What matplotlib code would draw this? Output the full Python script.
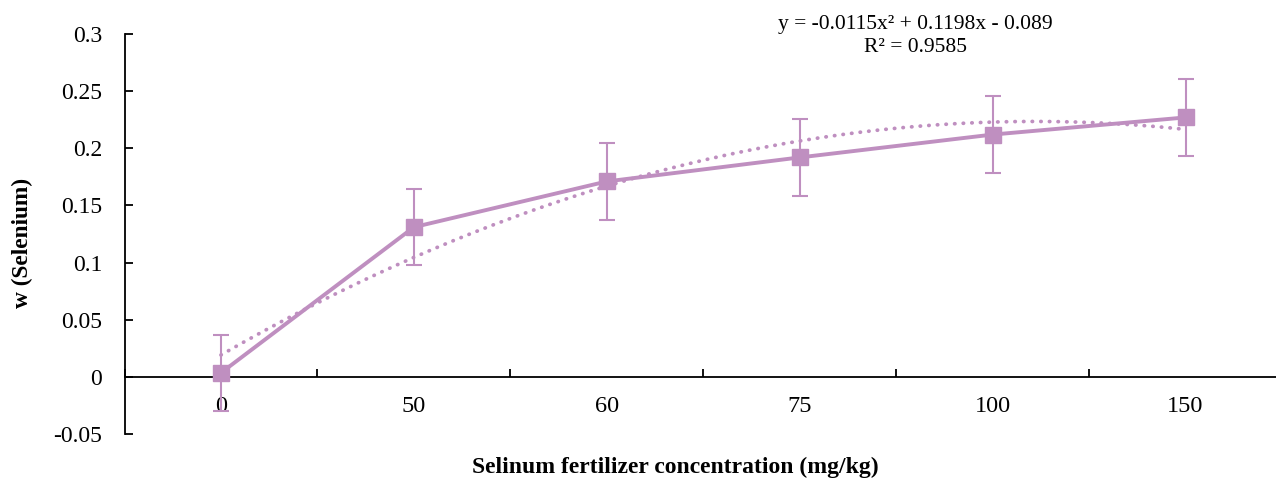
import numpy as np
import matplotlib.pyplot as plt
from matplotlib.ticker import MultipleLocator, FixedLocator

plt.rcParams["font.family"] = ["Liberation Serif", "DejaVu Serif"]

# data
categories = ["0", "50", "60", "75", "100", "150"]
selenium = [0.0035, 0.131, 0.171, 0.192, 0.212, 0.227]
err = [0.0335, 0.0335, 0.0335, 0.0335, 0.0335, 0.0335]
eq_text = "y = -0.0115x² + 0.1198x - 0.089"
r2_text = "R² = 0.9585"

color = "#BF8FC0"
pos = np.arange(1, len(categories) + 1)

fig = plt.figure(figsize=(12.76, 4.83), dpi=100)
ax = fig.add_axes([124.5 / 1276, 1 - 434 / 483, (1282 - 124.5) / 1276, 400 / 483])

# polynomial trendline (order 2), fitted like Excel does
coef = np.polyfit(pos, selenium, 2)
xs = np.linspace(pos[0], pos[-1], 200)
ax.plot(xs, np.polyval(coef, xs), linestyle=(0, (0.1, 2.2)), dash_capstyle="round",
        color=color, lw=2.7, zorder=2)

ax.errorbar(pos, selenium, yerr=err, color=color, lw=2.8, marker="s", markersize=12,
            ecolor=color, elinewidth=1.5, capsize=6, capthick=1.5, zorder=3)

ax.set_xlim(0.5, len(categories) + 0.5)
ax.set_ylim(-0.05, 0.3)
ax.yaxis.set_major_locator(MultipleLocator(0.05))
ax.set_yticklabels([f"{v:g}" for v in ax.get_yticks()])

ax.set_xticks(pos)
ax.set_xticklabels(categories)
ax.xaxis.set_minor_locator(FixedLocator(np.arange(0.5, len(categories) + 1, 1)))
ax.tick_params(axis="x", which="major", length=0, pad=14, labelsize=17.5)
ax.tick_params(axis="x", which="minor", direction="in", length=6, width=1.3)
ax.tick_params(axis="y", direction="in", length=6, width=1.3, pad=16, labelsize=17)

ax.spines["top"].set_visible(False)
ax.spines["right"].set_visible(False)
ax.spines["bottom"].set_position(("data", 0))
ax.spines["bottom"].set_linewidth(1.3)
ax.spines["left"].set_linewidth(1.3)

fig.text(915 / 1276, 1 - 25 / 483, eq_text, ha="center", va="center", fontsize=15.5)
fig.text(915 / 1276, 1 - 48 / 483, r2_text, ha="center", va="center", fontsize=15.5)

fig.text(22 / 1276, 1 - 243 / 483, "w (Selenium)", rotation=90, ha="center", va="center",
         fontsize=16.8, fontweight="bold")
fig.text(675 / 1276, 1 - 467 / 483, "Selinum fertilizer concentration (mg/kg)",
         ha="center", va="center", fontsize=17, fontweight="bold")

fig.savefig("out.png", dpi=100)
